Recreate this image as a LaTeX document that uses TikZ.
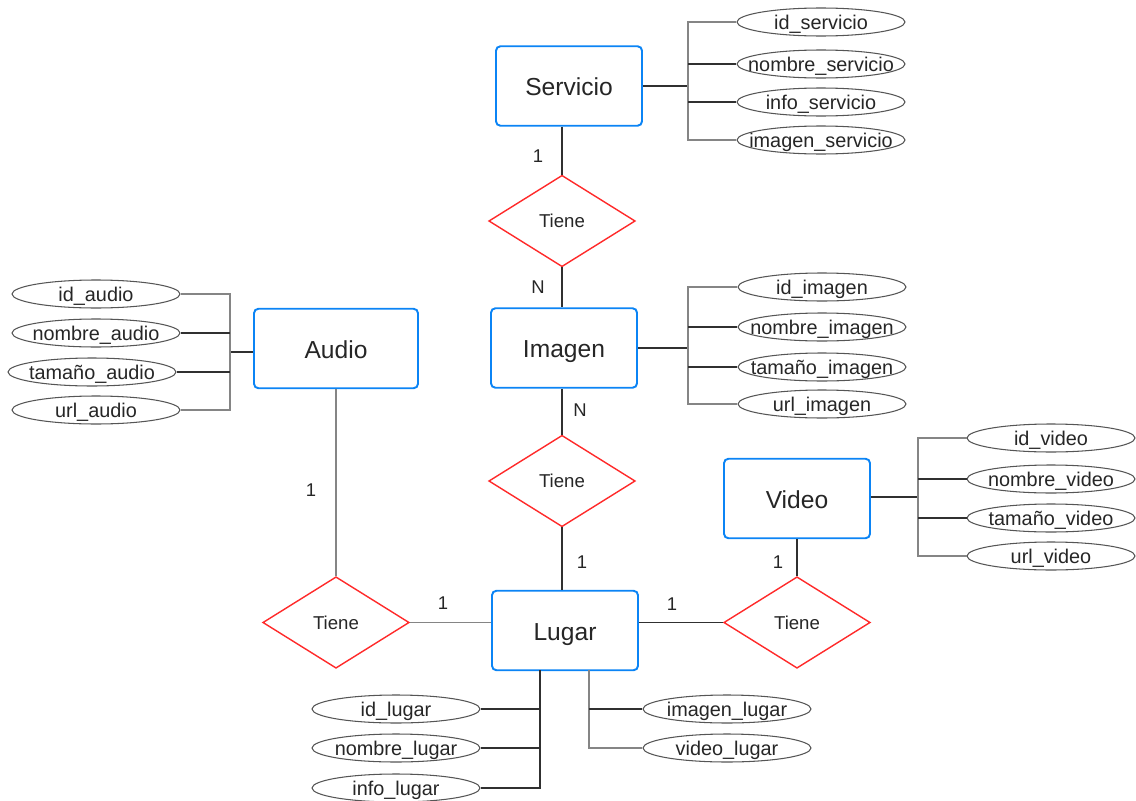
\documentclass[tikz,border=0pt]{standalone}
\usepackage{fontspec}
\setmainfont{Liberation Sans}
\usetikzlibrary{shapes.geometric}
\definecolor{entblue}{HTML}{0B84F5}
\definecolor{relred}{HTML}{FF2A2A}
\definecolor{txt}{HTML}{262626}
\definecolor{dkline}{HTML}{303030}
\definecolor{ltline}{HTML}{858585}
\definecolor{attrline}{HTML}{555555}
% attribute text is set in a zero-width box so the ellipse keeps its fixed size
\newcommand\zw[1]{\makebox[0pt]{#1}}
\tikzset{
  entity/.style={rectangle, draw=entblue, line width=1.1pt, rounded corners=2.5pt,
    fill=white, minimum width=#1, minimum height=1.59cm, inner sep=0pt,
    text height=12pt, text depth=1pt,
    font=\fontsize{14}{16}\selectfont, text=txt},
  entity/.default=2.92cm,
  rel/.style={diamond, draw=relred, line width=0.8pt, fill=white,
    minimum width=2.93cm, minimum height=1.83cm, inner sep=0pt,
    font=\fontsize{10.6}{12}\selectfont, text=txt},
  attr/.style={ellipse, draw=attrline, line width=0.6pt, fill=white,
    minimum width=3.36cm, minimum height=0.56cm, inner sep=0pt,
    text height=10pt, text depth=1pt,
    font=\fontsize{11.3}{13}\selectfont, text=txt},
  dk/.style={draw=dkline, line width=1.1pt},
  lt/.style={draw=ltline, line width=0.6pt},
  card/.style={inner sep=0pt, font=\fontsize{10.5}{12}\selectfont, text=txt}
}
\begin{document}
\begin{tikzpicture}[x=0.02cm, y=-0.02cm]
\useasboundingbox (0,0) rectangle (1136,801);

% ---- entities ----
\node[entity] (servicio) at (569,86) {Servicio};
\node[entity] (imagen) at (564,348) {Imagen};
\node[entity] (lugar) at (565,630.5) {Lugar};
\node[entity=3.28cm] (audio) at (336,348.5) {Audio};
\node[entity] (video) at (797,498.5) {Video};

% ---- relationships ----
\node[rel] (r1) at (562,221) {Tiene};
\node[rel] (r2) at (562,481) {Tiene};
\node[rel] (r3) at (336,622.5) {Tiene};
\node[rel] (r4) at (797,622.5) {Tiene};

% ---- relationship links ----
\draw[dk] (r1.north |- servicio.south) -- (r1.north);
\draw[dk] (r1.south) -- (r1.south |- imagen.north);
\draw[dk] (r2.north |- imagen.south) -- (r2.north);
\draw[dk] (r2.south) -- (r2.south |- lugar.north);
\draw[lt] (audio.south) -- (r3.north);
\draw[lt] (r3.east) -- (r3.east -| lugar.west);
\draw[dk] (video.south) -- (r4.north);
\draw[dk] (r4.west -| lugar.east) -- (r4.west);

% ---- cardinalities ----
\node[card] (k1) at (538,156) {1};
\node[card] (k2) at (538,287) {N};
\node[card] (k3) at (580,410) {N};
\node[card] (k4) at (582,562) {1};
\node[card] (k5) at (311,490) {1};
\node[card] (k6) at (443,603) {1};
\node[card] (k7) at (672,604) {1};
\node[card] (k8) at (778,562) {1};

% ---- Servicio attributes ----
\node[attr] (s1) at (821,22) {\zw{id\_servicio}};
\node[attr] (s2) at (821,64) {\zw{nombre\_servicio}};
\node[attr] (s3) at (821,102) {\zw{info\_servicio}};
\node[attr] (s4) at (821,140) {\zw{imagen\_servicio}};
\coordinate (sb) at (688,86);
\draw[dk] (servicio.east) -- (sb);
\draw[lt] (sb) |- (s1.west);
\draw[lt] (sb) |- (s4.west);
\draw[dk] (s2.west -| sb) -- (s2.west);
\draw[dk] (s3.west -| sb) -- (s3.west);

% ---- Imagen attributes ----
\node[attr] (i1) at (822,287) {\zw{id\_imagen}};
\node[attr] (i2) at (822,327) {\zw{nombre\_imagen}};
\node[attr] (i3) at (822,367) {\zw{tamaño\_imagen}};
\node[attr] (i4) at (822,404) {\zw{url\_imagen}};
\coordinate (ib) at (688,348);
\draw[dk] (imagen.east) -- (ib);
\draw[lt] (ib) |- (i1.west);
\draw[lt] (ib) |- (i4.west);
\draw[dk] (i2.west -| ib) -- (i2.west);
\draw[dk] (i3.west -| ib) -- (i3.west);

% ---- Audio attributes ----
\node[attr] (a1) at (96,294) {\zw{id\_audio}};
\node[attr] (a2) at (96,333) {\zw{nombre\_audio}};
\node[attr] (a3) at (92,372) {\zw{tamaño\_audio}};
\node[attr] (a4) at (96,410) {\zw{url\_audio}};
\coordinate (ab) at (230,352);
\draw[dk] (audio.west |- ab) -- (ab);
\draw[lt] (ab) |- (a1.east);
\draw[lt] (ab) |- (a4.east);
\draw[dk] (a2.east -| ab) -- (a2.east);
\draw[dk] (a3.east -| ab) -- (a3.east);

% ---- Video attributes ----
\node[attr] (v1) at (1051,438) {\zw{id\_video}};
\node[attr] (v2) at (1051,479) {\zw{nombre\_video}};
\node[attr] (v3) at (1051,518) {\zw{tamaño\_video}};
\node[attr] (v4) at (1051,556) {\zw{url\_video}};
\coordinate (vb) at (918,497);
\draw[dk] (video.east |- vb) -- (vb);
\draw[lt] (vb) |- (v1.west);
\draw[lt] (vb) |- (v4.west);
\draw[dk] (v2.west -| vb) -- (v2.west);
\draw[dk] (v3.west -| vb) -- (v3.west);

% ---- Lugar attributes ----
\node[attr] (l1) at (396,709) {\zw{id\_lugar}};
\node[attr] (l2) at (396,748) {\zw{nombre\_lugar}};
\node[attr] (l3) at (396,788) {\zw{info\_lugar}};
\node[attr] (l4) at (727,709) {\zw{imagen\_lugar}};
\node[attr] (l5) at (727,748) {\zw{video\_lugar}};
\coordinate (lbl) at (540,670);
\coordinate (lbr) at (589,670);
\draw[dk] (lbl) |- (l3.east);
\draw[dk] (l1.east -| lbl) -- (l1.east);
\draw[dk] (l2.east -| lbl) -- (l2.east);
\draw[lt] (lbr) |- (l5.west);
\draw[dk] (l4.west -| lbr) -- (l4.west);
\end{tikzpicture}
\end{document}
